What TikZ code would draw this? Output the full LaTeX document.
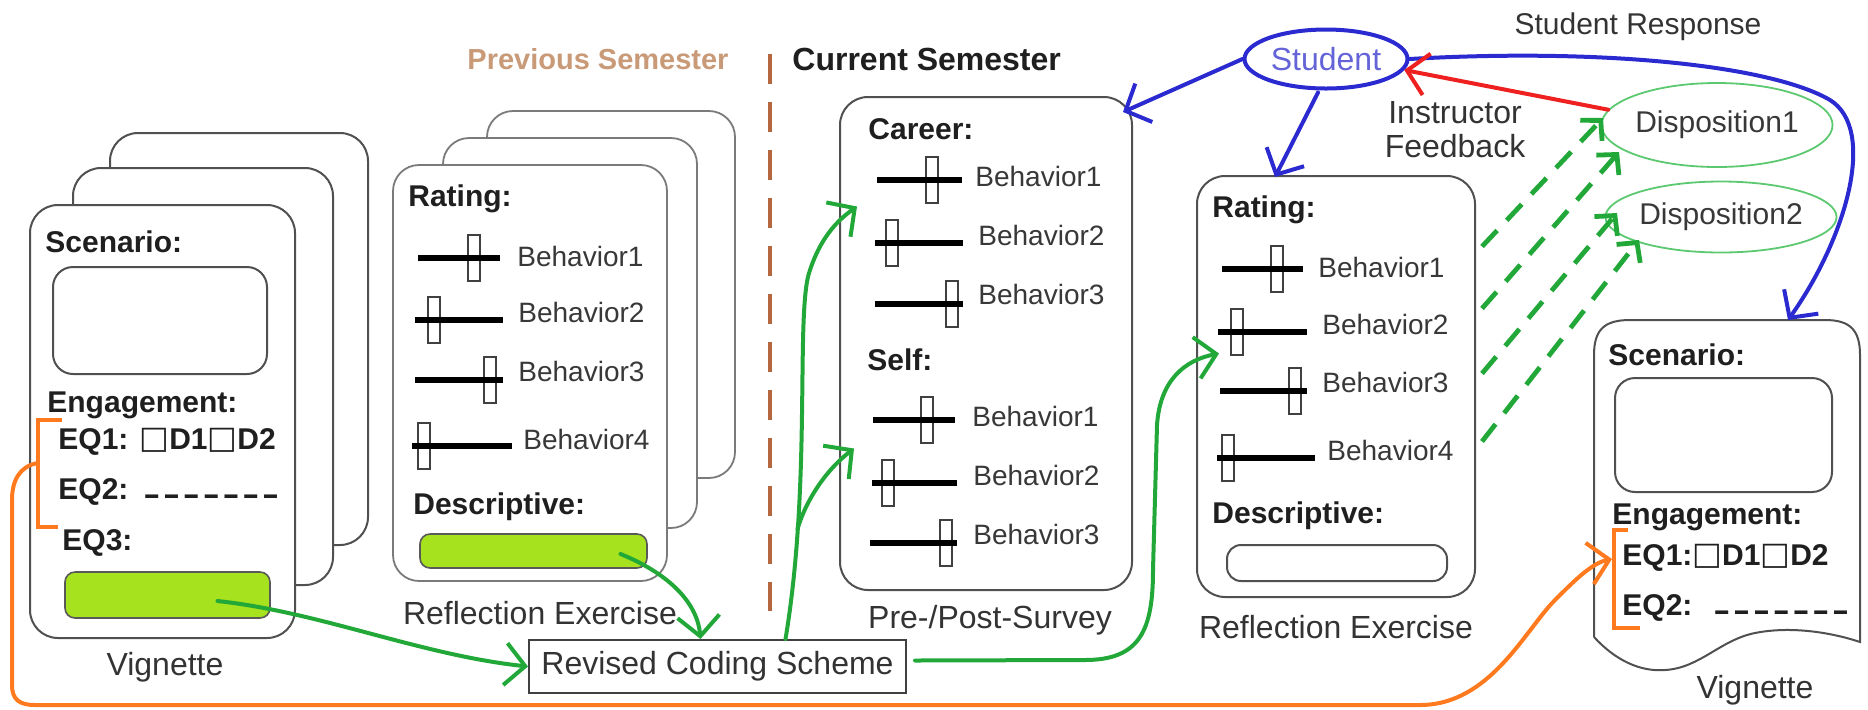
\documentclass[tikz,border=0pt]{standalone}
\usepackage{fontspec}
\setmainfont{Liberation Sans}
\newfontfamily\symf{DejaVu Sans}
\usepackage{graphicx}
\usetikzlibrary{arrows.meta,fit,calc,shapes.geometric}
\definecolor{cgreen}{HTML}{22A838}
\definecolor{cblue}{HTML}{2A2AD0}
\definecolor{cred}{HTML}{EE2020}
\definecolor{corange}{HTML}{FF7A1F}
\definecolor{cbrown}{HTML}{B5673F}
\definecolor{ptitle}{HTML}{C99A78}
\definecolor{elgreen}{HTML}{5CC870}
\definecolor{cardgray}{HTML}{505050}
\definecolor{cardlight}{HTML}{7A7A7A}
\definecolor{ygfill}{HTML}{A6E21E}
\definecolor{stxt}{HTML}{6464D8}
\newcommand{\sld}[4]{%
  \draw[handle] ({#4-6},{#3-23}) rectangle ({#4+6},{#3+23});
  \draw[sline] (#1,#3) -- (#2,#3);}
\newcommand{\dsh}{\scalebox{1.7}[1]{-}\kern1.4pt}
\newcommand{\sq}{{\symf\mdseries\raisebox{0.05ex}{\scalebox{1.05}{□}}}}
\begin{document}
\begin{tikzpicture}[x=0.5pt,y=-0.5pt,
  cardL/.style={draw=cardgray, line width=1pt, rounded corners=14pt, fill=white, inner sep=0pt},
  cardP/.style={draw=cardlight, line width=0.9pt, rounded corners=13pt, fill=white, inner sep=0pt},
  inbox/.style={draw=cardgray, line width=1pt, rounded corners=10pt, inner sep=0pt},
  gbar/.style={draw=black!65, line width=0.8pt, rounded corners=5pt, fill=ygfill, inner sep=0pt},
  lab/.style={font=\bfseries\fontsize{15}{17}\selectfont, text=black!88, anchor=west, inner sep=0pt},
  beh/.style={font=\fontsize{14}{16}\selectfont, text=black!78, anchor=west, inner sep=0pt},
  capt/.style={font=\fontsize{16}{18}\selectfont, text=black!80, inner sep=0pt},
  handle/.style={draw=black!75, line width=0.8pt},
  sline/.style={draw=black, line width=2.6pt},
  barb/.style={-{Straight Barb[length=10pt,width=21pt]}, line width=2pt, line cap=round, line join=round},
  sbarb/.style={-{Straight Barb[length=7pt,width=15pt]}, line width=2.4pt, dash pattern=on 11pt off 7pt},
  obr/.style={draw=corange, line width=2.4pt},
  disp/.style={draw=elgreen, line width=0.9pt, ellipse, inner sep=0pt, font=\fontsize{15}{17}\selectfont, text=black!78}
]
\useasboundingbox (0,0) rectangle (1868,709);

% ---------- left vignette stack ----------
\node[cardL, fit={(110,133) (368,545)}] (vb2) {};
\node[cardL, fit={(73,168) (333,585)}] (vb1) {};
\node[cardL, fit={(30,205) (295,638)}] (vf) {};
\node[lab] (vsc) at (45,242) {Scenario:};
\node[inbox, fit={(53,267) (267,374)}] (vsbox) {};
\node[lab] (veng) at (47,405) {Engagement:};
\node[lab] (veq1) at (58,442) {EQ1: \sq D1\sq D2};
\node[lab] (veq2) at (58,492) {EQ2:\hspace{0.5em}\raisebox{-0.3ex}{\dsh\dsh\dsh\dsh\dsh\dsh\dsh}};
\node[lab] (veq3) at (62,543) {EQ3:};
\node[gbar, fit={(65,572) (270,618)}] (vbar) {};
\node[capt] (vlab) at (165,667) {Vignette};
\draw[obr] (62,420) -- (38,420) -- (38,527) -- (58,527);
\coordinate (lbr) at (38,463);

% ---------- previous reflection stack ----------
\node[cardP, fit={(487,111) (735,478)}] (pb2) {};
\node[cardP, fit={(443,138) (697,528)}] (pb1) {};
\node[cardP, fit={(393,165) (667,581)}] (pf) {};
\node[lab] (prat) at (408,199) {Rating:};
\sld{418}{500}{258}{474}
\sld{415}{503}{320}{434}
\sld{415}{503}{380}{490}
\sld{412}{512}{446}{424}
\node[beh] (pb1t) at (517,256) {Behavior1};
\node[beh] (pb2t) at (518,312) {Behavior2};
\node[beh] (pb3t) at (518,371) {Behavior3};
\node[beh] (pb4t) at (523,439) {Behavior4};
\node[lab] (pdesc) at (413,507) {Descriptive:};
\node[gbar, fit={(420,534) (647,568)}] (pbar) {};
\node[capt] (plab) at (540,613) {Reflection Exercise};

% ---------- titles ----------
\node[font=\bfseries\fontsize{14.5}{17}\selectfont, text=ptitle, inner sep=0pt] (prevt) at (598,59) {Previous Semester};
\draw[cbrown, line width=2.4pt, dash pattern=on 15pt off 9pt] (770,54) -- (770,611);
\node[font=\bfseries\fontsize{16}{18}\selectfont, text=black!88, anchor=west, inner sep=0pt] (curt) at (792,59) {Current Semester};
\node[font=\fontsize{15}{17}\selectfont, text=black!80, inner sep=0pt] (srt) at (1638,27) {Student Response};

% ---------- pre/post survey ----------
\node[cardL, fit={(840,97) (1132,590)}] (sv) {};
\node[lab] (scar) at (868,129) {Career:};
\sld{877}{962}{180}{932}
\sld{875}{963}{243}{892}
\sld{875}{963}{304}{952}
\node[beh] (sc1) at (975,176) {Behavior1};
\node[beh] (sc2) at (978,235) {Behavior2};
\node[beh] (sc3) at (978,294) {Behavior3};
\node[lab] (sself) at (867,360) {Self:};
\sld{873}{955}{420}{927}
\sld{872}{957}{483}{888}
\sld{870}{957}{543}{946}
\node[beh] (ss1) at (972,416) {Behavior1};
\node[beh] (ss2) at (973,475) {Behavior2};
\node[beh] (ss3) at (973,534) {Behavior3};
\node[capt] (svlab) at (990,620) {Pre-/Post-Survey};

% ---------- revised coding scheme ----------
\node[draw=black!75, line width=1pt, minimum width=188.5pt, minimum height=26.5pt, inner sep=0pt,
      font=\fontsize{16}{18}\selectfont, text=black!80] (rcs) at (717.5,666.5) {Revised Coding Scheme};

% ---------- current reflection ----------
\node[cardL, fit={(1197,176) (1475,597)}] (rf) {};
\node[lab] (rrat) at (1212,210) {Rating:};
\sld{1222}{1303}{269}{1277}
\sld{1218}{1307}{332}{1237}
\sld{1220}{1307}{391}{1295}
\sld{1217}{1315}{458}{1228}
\node[beh] (rb1t) at (1318,267) {Behavior1};
\node[beh] (rb2t) at (1322,324) {Behavior2};
\node[beh] (rb3t) at (1322,382) {Behavior3};
\node[beh] (rb4t) at (1327,450) {Behavior4};
\node[lab] (rdesc) at (1212,516) {Descriptive:};
\node[inbox, rounded corners=7pt, fit={(1227,545) (1447,581)}] (rbar) {};
\node[capt] (rlab) at (1336,627) {Reflection Exercise};

% ---------- student, dispositions ----------
\node[draw=cblue, line width=2pt, ellipse, minimum width=81.5pt, minimum height=29.5pt, inner sep=0pt,
      font=\fontsize{16}{18}\selectfont, text=stxt] (st) at (1326,59) {Student};
\node[font=\fontsize{16}{17}\selectfont, text=black!80, align=center, inner sep=0pt] (ifb) at (1455,130) {Instructor\\Feedback};
\node[disp, minimum width=110.5pt, minimum height=42pt] (d1) at (1717,125) {Disposition1};
\node[disp, minimum width=106pt, minimum height=35.5pt] (d2) at (1721,217) {Disposition2};

% ---------- right vignette ----------
\draw[draw=cardgray, line width=1pt, fill=white]
  (1594,637) -- (1594,355) .. controls (1594,330) and (1604,320) .. (1630,320)
  -- (1825,320) .. controls (1850,320) and (1860,330) .. (1860,355) -- (1860,642)
  .. controls (1830,632) and (1790,626) .. (1755,633)
  .. controls (1720,640) and (1700,668) .. (1665,670)
  .. controls (1640,672) and (1615,660) .. (1594,637);
\node[lab] (rvsc) at (1608,355) {Scenario:};
\node[inbox, fit={(1615,378) (1832,492)}] (rvbox) {};
\node[lab] (rveng) at (1612,517) {Engagement:};
\node[lab] (rveq1) at (1622,558) {EQ1:\sq D1\sq D2};
\node[lab] (rveq2) at (1622,608) {EQ2:\hspace{0.7em}\raisebox{-0.3ex}{\dsh\dsh\dsh\dsh\dsh\dsh\dsh}};
\node[capt] (rvlab) at (1755,690) {Vignette};
\draw[obr] (1628,530) -- (1614,530) -- (1614,628) -- (1640,628);
\coordinate (rbr) at (1612,559);
\coordinate (rvtop) at (1788,320);

% ---------- connectors ----------
% green
\draw[barb, cgreen] ($(vbar.center)+(50,6)$) .. controls (320,612) and (420,655) .. (rcs.west);
\draw[barb, cgreen] ($(pbar.center)+(87,3)$) .. controls (665,572) and (697,600) .. ($(rcs.north)+(-17,0)$);
\draw[barb, cgreen] ($(rcs.north)+(68,0)$) .. controls (812,480) and (795,310) .. (810,270)
   .. controls (820,240) and (835,222) .. ($(sv.west)+(18,-137)$);
\draw[barb, cgreen] ($(rcs.north)+(80,-110)$) .. controls (806,500) and (826,470) .. ($(sv.west)+(15,105)$);
\draw[barb, cgreen] ($(rcs.east)+(8,-6)$) -- (1085,660) .. controls (1140,660) and (1153,630) .. (1153,570)
   -- (1157,425) .. controls (1160,380) and (1185,360) .. ($(rf.west)+(23,-33)$);
% dashed green
\draw[sbarb, cgreen] ($(rf.east)+(6,-140)$) -- ($(d1.center)+(-114,-7)$);
\draw[sbarb, cgreen] ($(rf.east)+(6,-78)$) -- ($(d1.center)+(-98,27)$);
\draw[sbarb, cgreen] ($(rf.east)+(6,-13)$) -- ($(d2.center)+(-104,-4)$);
\draw[sbarb, cgreen] ($(rf.east)+(6,55)$) -- ($(d2.center)+(-82,23)$);
% blue
\draw[barb, cblue] (st.west) -- ($(sv.north east)+(-10,16)$);
\draw[barb, cblue] ($(st.south)+(-8,2)$) -- ($(rf.north)+(-61,2)$);
\draw[barb, cblue] (st.east) .. controls (1600,48) and (1770,65) .. (1830,100)
   .. controls (1878,130) and (1845,240) .. (rvtop);
% red
\draw[barb, cred] (d1.172) -- (st.-8);
% orange
\draw[barb, corange] (lbr) .. controls (20,466) and (12,480) .. (12,500) -- (12,685)
   .. controls (12,700) and (20,705) .. (35,705) -- (1420,705)
   .. controls (1490,705) and (1525,630) .. (1555,600)
   .. controls (1575,580) and (1592,563) .. (rbr);
\end{tikzpicture}
\end{document}
